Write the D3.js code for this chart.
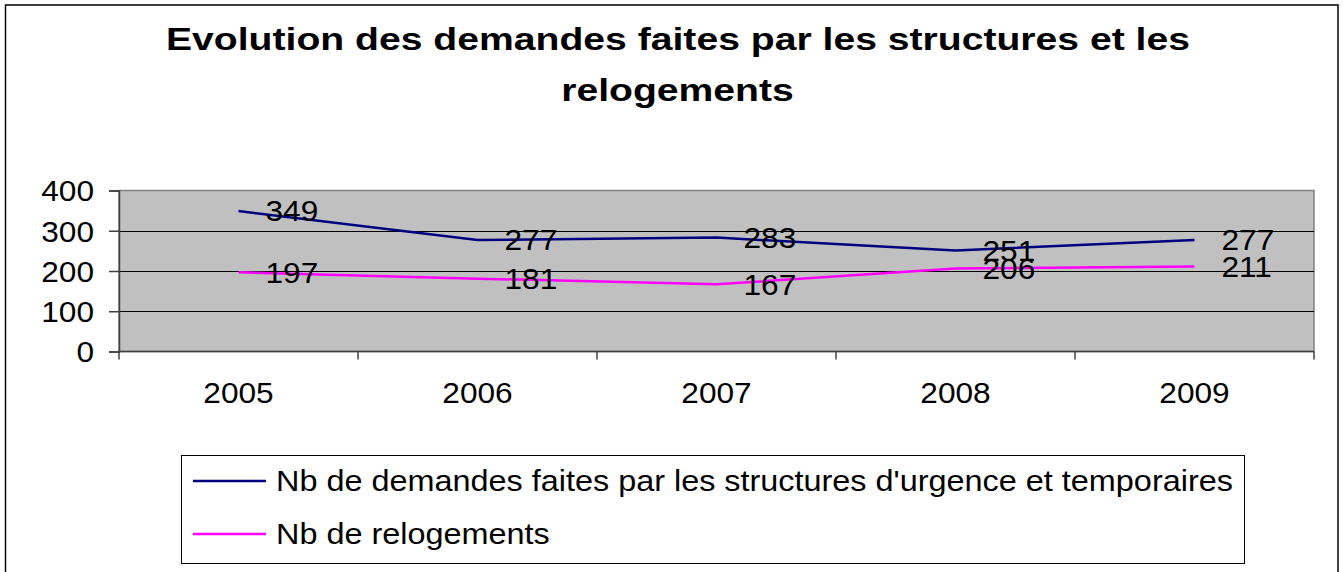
<!DOCTYPE html>
<html>
<head>
<meta charset="utf-8">
<script src="https://d3js.org/d3.v7.min.js"></script>
<style>
  body { margin: 0; background: #fff; }
  svg text { font-family: "Liberation Sans", Arial, sans-serif; fill: #000; }
</style>
</head>
<body>
<div id="my_dataviz"></div>
<script>

// data
var years = ["2005", "2006", "2007", "2008", "2009"];
var demandes = [349, 277, 283, 251, 277];
var relogements = [197, 181, 167, 206, 211];
var yTicks = [0, 100, 200, 300, 400];
var seriesNames = ["Nb de demandes faites par les structures d'urgence et temporaires", "Nb de relogements"];
var seriesColors = ["#000080", "#ff00ff"];

var W = 1343, H = 572;
var plot = {left: 119, right: 1314, top: 190.5, bottom: 351.5};
var fs = "29px";

var svg = d3.select("#my_dataviz")
  .append("svg")
    .attr("width", W)
    .attr("height", H);

// stretch text horizontally like the original
function stretch(sel, sx) {
  sel.each(function() {
    var len = this.getComputedTextLength();
    d3.select(this)
      .attr("textLength", len * sx)
      .attr("lengthAdjust", "spacingAndGlyphs");
  });
}

// outer frame
svg.append("rect")
  .attr("x", 5.5).attr("y", 5)
  .attr("width", 1332.5).attr("height", 580)
  .attr("fill", "#fff")
  .attr("stroke", "#000")
  .attr("stroke-width", 1.5);

// title
var title = svg.append("g");
title.append("text")
  .attr("x", 678).attr("y", 50)
  .attr("text-anchor", "middle")
  .style("font-size", "31px").style("font-weight", "bold")
  .text("Evolution des demandes faites par les structures et les");
title.append("text")
  .attr("x", 677.5).attr("y", 101)
  .attr("text-anchor", "middle")
  .style("font-size", "31px").style("font-weight", "bold")
  .text("relogements");
var t1len = title.select("text").node().getComputedTextLength();
stretch(title.selectAll("text"), 1024 / t1len);

var x = d3.scaleBand()
  .domain(years)
  .range([plot.left, plot.right])
  .padding(0);

var y = d3.scaleLinear()
  .domain([0, 400])
  .range([plot.bottom, plot.top]);

var cx = function(d) { return x(d) + x.bandwidth() / 2; };

// plot area
svg.append("rect")
  .attr("x", plot.left).attr("y", plot.top)
  .attr("width", plot.right - plot.left)
  .attr("height", plot.bottom - plot.top)
  .attr("fill", "#c0c0c0")
  .attr("stroke", "#808080")
  .attr("stroke-width", 1.5);

// gridlines
svg.selectAll("grid")
  .data(yTicks.slice(1, -1))
  .enter()
  .append("line")
    .attr("x1", plot.left).attr("x2", plot.right)
    .attr("y1", function(d) { return Math.round(y(d)) + 0.5; })
    .attr("y2", function(d) { return Math.round(y(d)) + 0.5; })
    .attr("stroke", "#000")
    .attr("stroke-width", 1);

// y axis
var yAxis = svg.append("g")
  .attr("transform", "translate(" + plot.left + ",0)")
  .call(d3.axisLeft(y).tickValues(yTicks).tickSize(10).tickPadding(15));
yAxis.select(".domain").attr("stroke", "#404040").attr("stroke-width", 1.5);
yAxis.selectAll(".tick line").attr("stroke", "#404040").attr("stroke-width", 1.5);
yAxis.selectAll(".tick text")
  .attr("dy", "0.36em")
  .style("font-size", fs)
  .style("font-family", '"Liberation Sans", Arial, sans-serif');
stretch(yAxis.selectAll(".tick text"), 1.09);

// x axis
svg.append("line")
  .attr("x1", plot.left).attr("x2", plot.right)
  .attr("y1", plot.bottom).attr("y2", plot.bottom)
  .attr("stroke", "#404040").attr("stroke-width", 1.5);
svg.selectAll("xtick")
  .data(years.concat(["end"]))
  .enter()
  .append("line")
    .attr("x1", function(d) { return d === "end" ? plot.right : x(d); })
    .attr("x2", function(d) { return d === "end" ? plot.right : x(d); })
    .attr("y1", plot.bottom).attr("y2", plot.bottom + 8)
    .attr("stroke", "#404040").attr("stroke-width", 1.5);
var xLabels = svg.selectAll("xlabel")
  .data(years)
  .enter()
  .append("text")
    .attr("x", cx)
    .attr("y", 403)
    .attr("text-anchor", "middle")
    .style("font-size", fs)
    .text(function(d) { return d; });
stretch(xLabels, 1.09);

// series lines and labels
[demandes, relogements].forEach(function(vals, i) {
  var pts = years.map(function(yr, j) { return {year: yr, value: vals[j]}; });
  var line = d3.line()
    .x(function(d) { return cx(d.year); })
    .y(function(d) { return y(d.value); });
  svg.append("path")
    .datum(pts)
    .attr("d", line)
    .attr("fill", "none")
    .attr("stroke", seriesColors[i])
    .attr("stroke-width", 2.5);
  var lbl = svg.selectAll("lbl" + i)
    .data(pts)
    .enter()
    .append("text")
      .attr("x", function(d) { return cx(d.year) + 27; })
      .attr("y", function(d) { return y(d.value); })
      .attr("dy", "0.36em")
      .style("font-size", fs)
      .text(function(d) { return d.value; });
  stretch(lbl, 1.09);
});

// legend
var legend = svg.append("g");
legend.append("rect")
  .attr("x", 181.5).attr("y", 455.5)
  .attr("width", 1063).attr("height", 108)
  .attr("fill", "#fff")
  .attr("stroke", "#000")
  .attr("stroke-width", 1);
var legendY = [481, 534];
seriesNames.forEach(function(name, i) {
  legend.append("line")
    .attr("x1", 193).attr("x2", 266)
    .attr("y1", legendY[i]).attr("y2", legendY[i])
    .attr("stroke", seriesColors[i])
    .attr("stroke-width", 2.5);
  var t = legend.append("text")
    .attr("x", 276).attr("y", legendY[i])
    .attr("dy", "0.36em")
    .style("font-size", fs)
    .text(name);
  stretch(t, 1.117);
});

</script>
</body>
</html>
